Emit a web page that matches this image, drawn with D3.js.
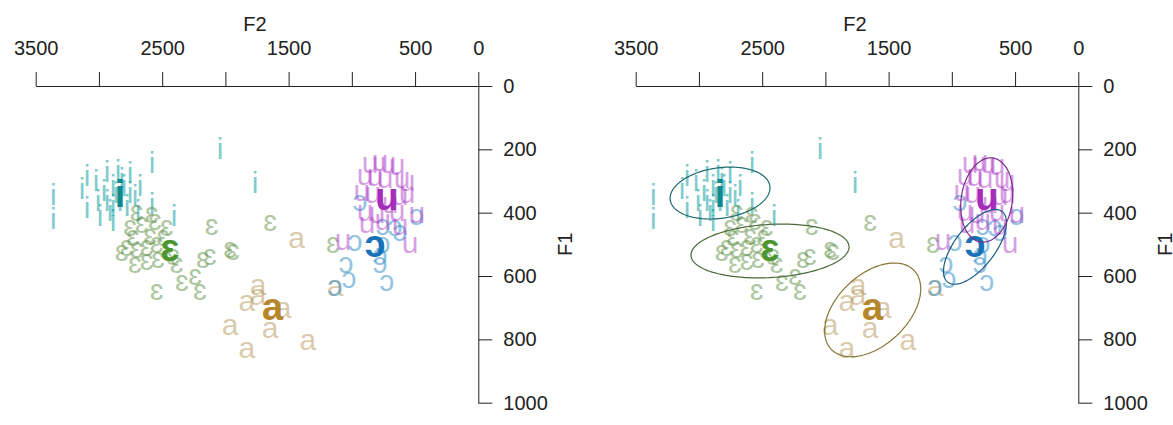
<!DOCTYPE html>
<html>
<head>
<meta charset="utf-8">
<script src="https://cdn.jsdelivr.net/npm/d3@7"></script>
<style>
  body { margin: 0; background: #fff; }
  svg text { font-family: "Liberation Sans", Arial, sans-serif; }
</style>
</head>
<body>
<svg id="chart" width="1173" height="425"></svg>
<script>
// Vowel categories (IPA symbols drawn as plotting glyphs)
const vowels = ["i", "ɛ", "a", "ɔ", "u"];

// Token formant measurements (Hz)
const iF2 = [3361,3361,3134,3094,3094,3023,3007,2991,2936,2936,2889,2889,2889,2849,2833,2802,2778,2754,2754,2715,2691,2675,2580,2580,2406,2042,1765,2959,2865,2818,2912];
const iF1 = [341,417,322,281,382,297,360,407,268,360,313,376,423,265,360,313,376,272,335,344,392,313,240,369,407,196,303,328,335,290,392];

const eF2 = [2701,2583,2662,2557,2464,2754,2780,2701,2622,2543,2731,2596,2493,2715,2622,2533,2414,2385,2820,2108,1647,2122,2177,1963,1940,2345,2240,2201,2543,1149];
const eF1 = [401,407,439,429,448,448,512,518,512,502,480,477,480,565,556,549,540,565,527,445,433,540,549,518,524,622,603,650,650,502];

const aF2 = [1436,1742,1831,1742,1544,1647,1963,1831,1347,1133];
const aF1 = [486,635,685,666,707,770,761,834,808,638];

const oF2 = [935,975,1046,1022,754,777,777,724,754,659,619,487,1133];
const oF1 = [369,496,565,613,502,540,565,622,445,448,464,414,638];

const uF2 = [856,777,714,643,896,817,738,603,564,920,833,619,564,896,801,643,485,880,754,619,540,1070,698];
const uF1 = [249,243,249,256,287,290,297,297,306,338,344,350,344,401,407,401,407,439,429,445,502,493,376];

// Category means (Hz)
const meanF2 = [2833, 2438, 1626, 817, 724];
const meanF1 = [338, 521, 707, 508, 360];

// Dispersion used for the ellipses (Hz) and F2/F1 correlation
const sdF2 = [395, 625, 380, 249, 206];
const sdF1 = [82, 85, 148, 118, 133];
const rhoF = [0.2, 0.15, 0.45, 0.65, 0.15];

// Axis ticks
const f2Ticks = [3500, 3000, 2500, 2000, 1500, 1000, 500, 0];
const f2Labels = ["3500", "", "2500", "", "1500", "", "500", "0"];
const f1Ticks = [0, 200, 400, 600, 800, 1000];

// ---- styling ----
const tokenColor = { "i": "#00979a", "ɛ": "#5e8f45", "a": "#b39657", "ɔ": "#2a8ac4", "u": "#b040c8" };
const meanColor  = { "i": "#11898b", "ɛ": "#4b9630", "a": "#b5862c", "ɔ": "#1872b8", "u": "#a52cb8" };
const ellColor   = { "i": "#1c6b6d", "ɛ": "#4a6a38", "a": "#857636", "ɔ": "#1e5a85", "u": "#7b2c8c" };
const glyphDy    = { "i": "0.36em", "ɛ": "0.27em", "a": "0.27em", "ɔ": "0.27em", "u": "0.27em" };

const tokenSets = [
  { v: "i", f2: iF2, f1: iF1 },
  { v: "ɛ", f2: eF2, f1: eF1 },
  { v: "a", f2: aF2, f1: aF1 },
  { v: "ɔ", f2: oF2, f1: oF1 },
  { v: "u", f2: uF2, f1: uF1 }
];

const svg = d3.select("#chart");
const x = d3.scaleLinear().domain([3500, 0]).range([35.7, 478.3]);
const y = d3.scaleLinear().domain([0, 1000]).range([86, 402.7]);

function drawPanel(offset, withEllipses) {
  const g = svg.append("g").attr("transform", `translate(${offset},0)`);

  // top F2 axis
  const xAxis = d3.axisTop(x)
    .tickValues(f2Ticks)
    .tickFormat((d, i) => f2Labels[i])
    .tickSize(14).tickSizeOuter(0).tickPadding(17);
  const gx = g.append("g").attr("transform", `translate(0,${y(0)})`).call(xAxis);

  // right F1 axis
  const yAxis = d3.axisRight(y)
    .tickValues(f1Ticks)
    .tickFormat(d3.format("d"))
    .tickSize(14).tickSizeOuter(0).tickPadding(11);
  const gy = g.append("g").attr("transform", `translate(${x(0)},0)`).call(yAxis);

  [gx, gy].forEach(a => {
    a.selectAll("path, line").attr("stroke", "#222").attr("stroke-width", 1);
    a.selectAll("text").attr("font-size", 20).attr("fill", "#222")
      .attr("font-family", "'Liberation Sans', Arial, sans-serif");
  });

  g.append("text")
    .attr("x", (x(3500) + x(0)) / 2 - 2).attr("y", 31)
    .attr("text-anchor", "middle").attr("font-size", 20).attr("fill", "#222")
    .text("F2");
  g.append("text")
    .attr("transform", `translate(${x(0) + 94},${(y(0) + y(1000)) / 2}) rotate(-90)`)
    .attr("text-anchor", "middle").attr("font-size", 20).attr("fill", "#222")
    .text("F1");

  // individual tokens
  tokenSets.forEach(s => {
    g.append("g").selectAll("text")
      .data(s.f2.map((f2, i) => [f2, s.f1[i]]))
      .join("text")
      .attr("x", d => x(d[0])).attr("y", d => y(d[1]))
      .attr("dy", glyphDy[s.v])
      .attr("text-anchor", "middle")
      .attr("font-size", 30)
      .attr("fill", tokenColor[s.v]).attr("fill-opacity", 0.5)
      .text(s.v);
  });

  // category means
  g.append("g").selectAll("text")
    .data(vowels.map((v, i) => ({ v, f2: meanF2[i], f1: meanF1[i] })))
    .join("text")
    .attr("x", d => x(d.f2)).attr("y", d => y(d.f1))
    .attr("dy", d => glyphDy[d.v])
    .attr("text-anchor", "middle")
    .attr("font-size", 38).attr("font-weight", "bold")
    .attr("fill", d => meanColor[d.v])
    .text(d => d.v);

  if (withEllipses) {
    const line = d3.line().curve(d3.curveLinearClosed);
    vowels.forEach((v, i) => {
      const r = rhoF[i], k = Math.sqrt(1 - r * r);
      const pts = d3.range(0, 2 * Math.PI, Math.PI / 90).map(t => {
        const f2 = meanF2[i] + sdF2[i] * Math.cos(t);
        const f1 = meanF1[i] + sdF1[i] * (r * Math.cos(t) + k * Math.sin(t));
        return [x(f2), y(f1)];
      });
      g.append("path").attr("d", line(pts))
        .attr("fill", "none").attr("stroke", ellColor[v]).attr("stroke-width", 1.2);
    });
  }
}

drawPanel(0, false);
drawPanel(600, true);
</script>
</body>
</html>
